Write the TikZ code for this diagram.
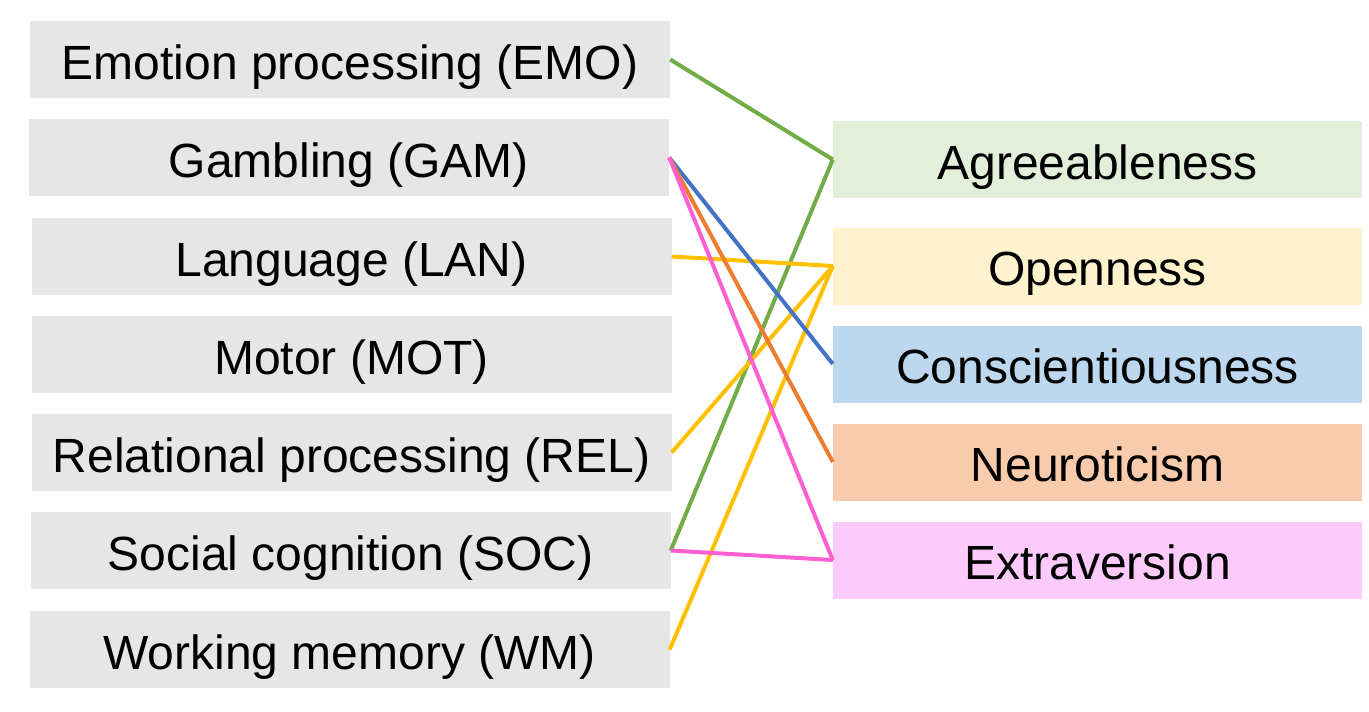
\documentclass[tikz,border=0pt]{standalone}
\usepackage{fontspec}
\setmainfont{Liberation Sans}

% Box and line colours
\definecolor{taskgrey}{HTML}{E6E6E6}
\definecolor{agrfill}{HTML}{E2EFDA}
\definecolor{opnfill}{HTML}{FFF2CC}
\definecolor{confill}{HTML}{BDD7EE}
\definecolor{neufill}{HTML}{F8CBAD}
\definecolor{extfill}{HTML}{FCCBFC}
\definecolor{agrline}{HTML}{70AD47}
\definecolor{opnline}{HTML}{FFC000}
\definecolor{conline}{HTML}{4472C4}
\definecolor{neuline}{HTML}{ED7D31}
\definecolor{extline}{HTML}{FF5FD0}

\tikzset{
  taskbox/.style={fill=taskgrey, minimum width=640pt, minimum height=77pt, inner sep=0pt,
    text height=39pt, text depth=0pt, font=\fontsize{48}{56}\selectfont},
  traitbox/.style={minimum width=529pt, minimum height=77pt, inner sep=0pt,
    text height=39pt, text depth=0pt, font=\fontsize{48}{56}\selectfont},
  link/.style={line width=4pt}
}

\begin{document}
\begin{tikzpicture}[x=1pt,y=-1pt]

    % Fix the frame to the size of the reference
    \useasboundingbox (0,0) rectangle (1369,712);

    % Tasks on the left
    \node[taskbox] (emo) at (350,59.5) {Emotion processing (EMO)};
    \node[taskbox] (gam) at (349,157.5) {Gambling (GAM)};
    \node[taskbox] (lan) at (351.5,256.5) {Language (LAN)};
    \node[taskbox] (mot) at (351.5,354.5) {Motor (MOT)};
    \node[taskbox] (rel) at (351.5,452.5) {Relational processing (REL)};
    \node[taskbox] (soc) at (350.5,550.5) {Social cognition (SOC)};
    \node[taskbox] (wm) at (349.5,649.5) {Working memory (WM)};

    % Personality traits on the right
    \node[traitbox, fill=agrfill] (agr) at (1097.5,159.5) {Agreeableness};
    \node[traitbox, fill=opnfill] (opn) at (1097.5,266) {Openness};
    \node[traitbox, fill=confill] (con) at (1097.5,364) {Conscientiousness};
    \node[traitbox, fill=neufill] (neu) at (1097.5,462) {Neuroticism};
    \node[traitbox, fill=extfill] (ext) at (1097.5,560) {Extraversion};

    % Agreeableness links
    \draw[link, agrline] (emo.east) -- (agr.west);
    \draw[link, agrline] (soc.east) -- (agr.west);

    % Openness links
    \draw[link, opnline] (lan.east) -- (opn.west);
    \draw[link, opnline] (rel.east) -- (opn.west);
    \draw[link, opnline] (wm.east) -- (opn.west);

    % Links from gambling
    \draw[link, conline] (gam.east) -- (con.west);
    \draw[link, neuline] (gam.east) -- (neu.west);
    \draw[link, extline] (gam.east) -- (ext.west);

    % Social cognition to extraversion
    \draw[link, extline] (soc.east) -- (ext.west);

\end{tikzpicture}
\end{document}
